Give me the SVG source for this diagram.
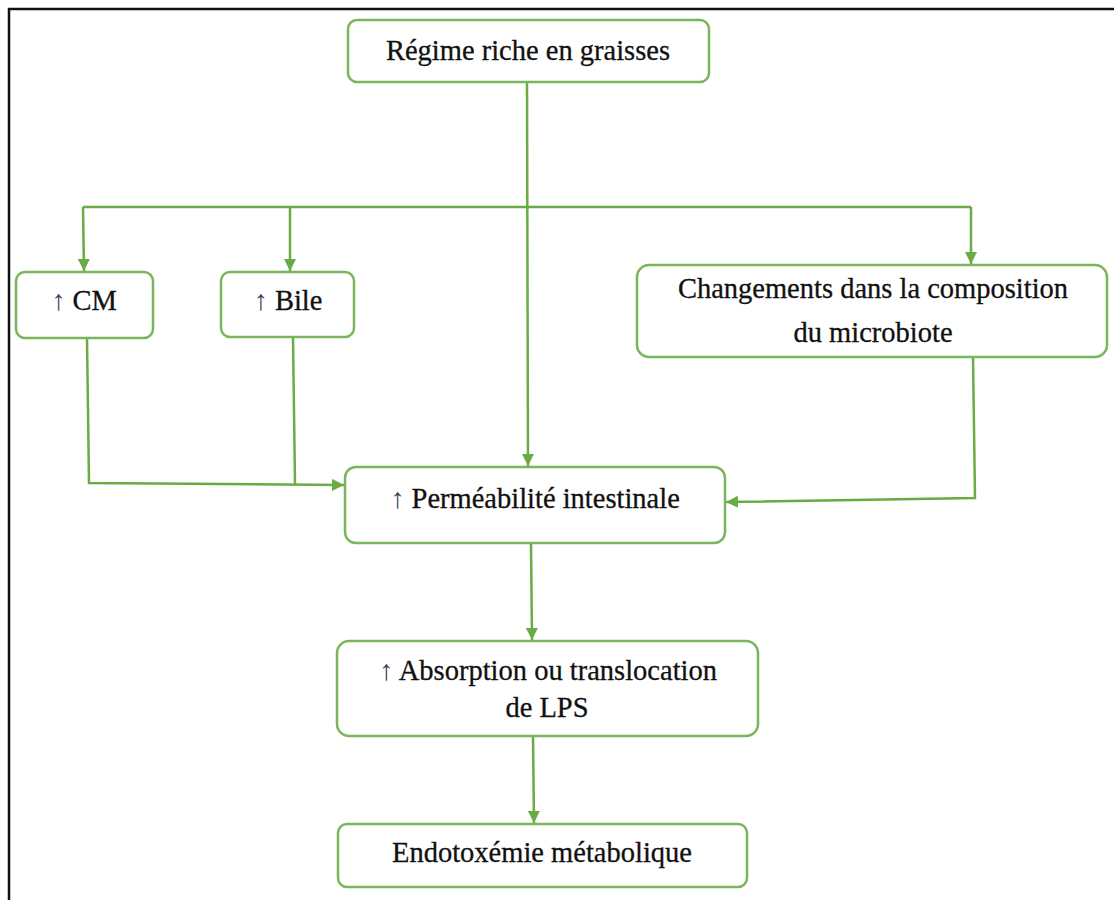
<svg xmlns="http://www.w3.org/2000/svg" width="1114" height="900" viewBox="0 0 1114 900">
<style>
.box{fill:#ffffff;stroke:#7ab55c;stroke-width:2.5}
.lbl{font-family:'Liberation Serif','Times New Roman',serif;font-size:28.5px;fill:#111111;text-anchor:middle;stroke:#111111;stroke-width:0.3}
.up{fill:#3a3a5a;stroke:none}
.ln{fill:none;stroke:#6aab45;stroke-width:2.5}
</style>
<defs>
<marker id="ah" viewBox="0 0 10 10" refX="10" refY="5" markerWidth="12" markerHeight="12" markerUnits="userSpaceOnUse" orient="auto">
<path d="M0,0 L10,5 L0,10 z" fill="#6aab45"/>
</marker>
</defs>
<rect width="1114" height="900" fill="#ffffff"/>
<path d="M9,900 L9,9 L1114,9" fill="none" stroke="#111111" stroke-width="2.5"/>
<g id="connectors">
<path class="ln" d="M527,83 L528,466" marker-end="url(#ah)"/>
<path class="ln" d="M83,207 L971,207"/>
<path class="ln" d="M83,207 L84,271" marker-end="url(#ah)"/>
<path class="ln" d="M290,207 L290,271" marker-end="url(#ah)"/>
<path class="ln" d="M971,207 L971,264" marker-end="url(#ah)"/>
<path class="ln" d="M87,338 L89,483 L344,485" marker-end="url(#ah)"/>
<path class="ln" d="M293,338 L295,484"/>
<path class="ln" d="M973,357 L975,498 L726,502" marker-end="url(#ah)"/>
<path class="ln" d="M531,543 L532,640" marker-end="url(#ah)"/>
<path class="ln" d="M533,736 L534,823" marker-end="url(#ah)"/>
</g>
<g id="n-regime">
<rect class="box" x="348" y="20" width="361" height="62" rx="9"/>
<text class="lbl" x="528" y="60">Régime riche en graisses</text>
</g>
<g id="n-cm">
<rect class="box" x="16" y="272" width="137" height="66" rx="9"/>
<text class="lbl" x="84" y="310"><tspan class="up">↑</tspan> CM</text>
</g>
<g id="n-bile">
<rect class="box" x="221" y="272" width="133" height="65" rx="9"/>
<text class="lbl" x="288" y="310"><tspan class="up">↑</tspan> Bile</text>
</g>
<g id="n-microbiote">
<rect class="box" x="637" y="265" width="470" height="92" rx="12"/>
<text class="lbl" x="873" y="298">Changements dans la composition</text>
<text class="lbl" x="873" y="342">du microbiote</text>
</g>
<g id="n-permeabilite">
<rect class="box" x="345" y="467" width="380" height="76" rx="11"/>
<text class="lbl" x="535" y="508"><tspan class="up">↑</tspan> Perméabilité intestinale</text>
</g>
<g id="n-absorption">
<rect class="box" x="337" y="641" width="421" height="95" rx="12"/>
<text class="lbl" x="548" y="680"><tspan class="up">↑</tspan> Absorption ou translocation</text>
<text class="lbl" x="547" y="717">de LPS</text>
</g>
<g id="n-endotoxemie">
<rect class="box" x="338" y="824" width="409" height="63" rx="9"/>
<text class="lbl" x="542" y="862">Endotoxémie métabolique</text>
</g>
</svg>
